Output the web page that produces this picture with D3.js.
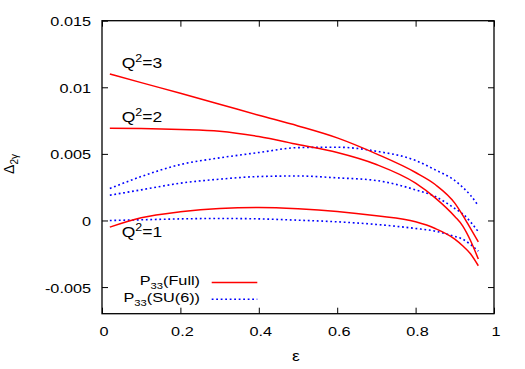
<!DOCTYPE html>
<html>
<head>
<meta charset="utf-8">
<script src="https://d3js.org/d3.v7.min.js"></script>
<style>
  body { margin: 0; background: #fff; }
  text { font-family: "Liberation Sans", Arial, sans-serif; fill: #000; }
</style>
</head>
<body>
<div id="chart"></div>
<script>
    // epsilon values shared by all curves
    var eps = [0.02, 0.1, 0.2, 0.3, 0.4, 0.5, 0.6, 0.7, 0.8, 0.85, 0.9, 0.92, 0.94, 0.96];

    // P33 (Full), Q^2 = 3, 2, 1
    var full3 = [0.0110, 0.01035, 0.00955, 0.00873, 0.0079, 0.0071, 0.0062, 0.0050, 0.0036, 0.0027, 0.0013, 0.0004, -0.0006, -0.0016];
    var full2 = [0.00692, 0.0069, 0.00683, 0.0067, 0.0063, 0.0057, 0.0051, 0.0042, 0.0028, 0.0017, 0.0003, -0.0004, -0.0015, -0.0029];
    var full1 = [-0.0005, 0.0002, 0.00065, 0.0009, 0.00097, 0.00088, 0.00068, 0.00035, -0.0001, -0.0006, -0.0014, -0.0019, -0.0025, -0.0034];

    // P33 (SU(6)), Q^2 = 3, 2, 1
    var su3 = [0.0024, 0.0033, 0.0042, 0.0047, 0.0051, 0.00547, 0.0055, 0.0052, 0.0045, 0.0038, 0.0030, 0.0025, 0.0019, 0.0011];
    var su2 = [0.0019, 0.0023, 0.0028, 0.0031, 0.0033, 0.00334, 0.0032, 0.0030, 0.0023, 0.0018, 0.0009, 0.0005, -0.0001, -0.00085];
    var su1 = [0.0, 0.00005, 0.00012, 0.00015, 0.00012, 0.00002, -0.0001, -0.0003, -0.0006, -0.0008, -0.0012, -0.0014, -0.0018, -0.0023];

    var xTicks = [0, 0.2, 0.4, 0.6, 0.8, 1];
    var yTicks = [-0.005, 0, 0.005, 0.01, 0.015];
    var qLabels = ["3", "2", "1"];
    var legendNames = ["Full", "SU(6)"];

    var W = 525, H = 369;
    var pLeft = 102, pRight = 494, pTop = 20.7, pBottom = 313.7;
    var sx = 1.25; // the text in the picture is stretched sideways

    var svg = d3.select("#chart").append("svg")
        .attr("width", W).attr("height", H);

    var x = d3.scaleLinear().domain([0, 1]).range([pLeft, pRight]);
    var y = d3.scaleLinear().domain([-0.007, 0.015]).range([pBottom, pTop]);

    function stretch(sel, dx, dy) {
        sel.attr("x", 0).attr("y", 0).attr("dy", null)
           .attr("transform", "translate(" + dx + "," + dy + ") scale(" + sx + ",1)");
    }

    // axes with inward ticks
    var xb = svg.append("g").attr("transform", "translate(0," + pBottom + ")")
        .call(d3.axisBottom(x).tickValues(xTicks).tickSize(-6).tickSizeOuter(0)
            .tickFormat(d3.format("")));
    var xt = svg.append("g").attr("transform", "translate(0," + pTop + ")")
        .call(d3.axisTop(x).tickValues(xTicks).tickSize(-6).tickSizeOuter(0).tickFormat(""));
    var yl = svg.append("g").attr("transform", "translate(" + pLeft + ",0)")
        .call(d3.axisLeft(y).tickValues(yTicks).tickSize(-6).tickSizeOuter(0)
            .tickFormat(function(d) { return d === 0 ? "0" : String(+d.toFixed(3)); }));
    var yr = svg.append("g").attr("transform", "translate(" + pRight + ",0)")
        .call(d3.axisRight(y).tickValues(yTicks).tickSize(-6).tickSizeOuter(0).tickFormat(""));

    [xb, xt, yl, yr].forEach(function(g) {
        g.select(".domain").remove();
        g.selectAll("line").attr("stroke", "#000").attr("stroke-width", 1);
    });
    xb.selectAll("text").style("font-size", "13px").attr("text-anchor", "middle")
        .each(function() { stretch(d3.select(this), 1.5, 22.3); });
    yl.selectAll("text").style("font-size", "13px").attr("text-anchor", "end")
        .each(function() { stretch(d3.select(this), -11, 5); });

    // frame
    svg.append("rect")
        .attr("x", pLeft).attr("y", pTop)
        .attr("width", pRight - pLeft).attr("height", pBottom - pTop)
        .attr("fill", "none").attr("stroke", "#000").attr("stroke-width", 1.3);

    // axis labels
    var xlab = svg.append("text").attr("text-anchor", "middle").style("font-size", "14px").text("ε");
    stretch(xlab, 296, 361);

    var ylab = svg.append("text").attr("text-anchor", "middle").style("font-size", "14px")
        .attr("transform", "translate(14,164) rotate(-90)");
    ylab.append("tspan").text("Δ");
    ylab.append("tspan").attr("dy", 4).style("font-size", "10px").text("2γ");

    // curves
    var line = d3.line()
        .x(function(d) { return x(d[0]); })
        .y(function(d) { return y(d[1]); })
        .curve(d3.curveMonotoneX);

    function pts(vals) { return eps.map(function(e, i) { return [e, vals[i]]; }); }

    [su3, su2, su1].forEach(function(s) {
        svg.append("path").attr("d", line(pts(s)))
            .attr("fill", "none").attr("stroke", "#0000ff")
            .attr("stroke-width", 1.6).attr("stroke-dasharray", "1.8,2.7");
    });
    [full3, full2, full1].forEach(function(s) {
        svg.append("path").attr("d", line(pts(s)))
            .attr("fill", "none").attr("stroke", "#ff0000").attr("stroke-width", 1.5);
    });

    // Q^2 labels
    var qPos = [[121.7, 68], [121.7, 121.7], [121.7, 236.7]];
    qLabels.forEach(function(q, i) {
        var t = svg.append("text").style("font-size", "14px");
        t.append("tspan").text("Q");
        t.append("tspan").attr("dy", -6).style("font-size", "10px").text("2");
        t.append("tspan").attr("dy", 6).text("=" + q);
        stretch(t, qPos[i][0], qPos[i][1]);
    });

    // legend
    var legColors = ["#ff0000", "#0000ff"];
    legendNames.forEach(function(n, i) {
        var by = 285 + i * 16.7;
        var t = svg.append("text").attr("text-anchor", "end").style("font-size", "13px");
        t.append("tspan").text("P");
        t.append("tspan").attr("dy", 4).style("font-size", "9px").text("33");
        t.append("tspan").attr("dy", -4).text("(" + n + ")");
        stretch(t, 200, by);
        svg.append("line")
            .attr("x1", 211.7).attr("x2", 257.3)
            .attr("y1", by - 2.5).attr("y2", by - 2.5)
            .attr("stroke", legColors[i])
            .attr("stroke-width", i === 0 ? 1.5 : 1.6)
            .attr("stroke-dasharray", i === 0 ? null : "1.8,2.7");
    });
</script>
</body>
</html>
